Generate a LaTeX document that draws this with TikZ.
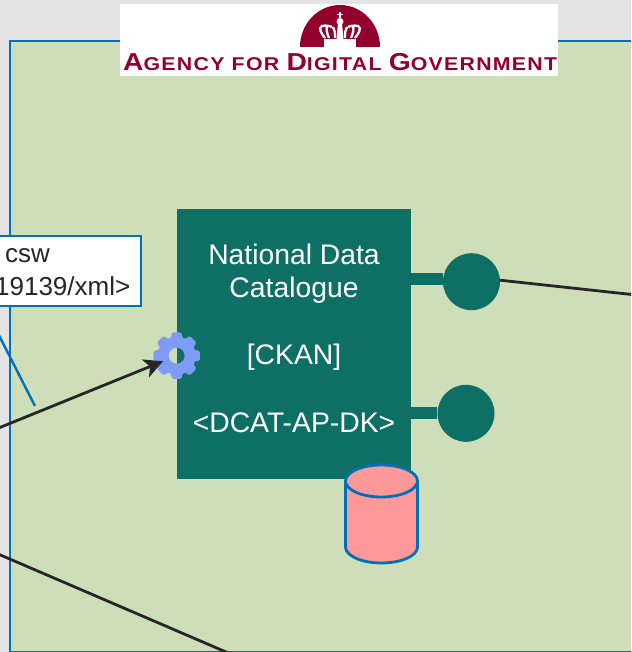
\documentclass[tikz,border=0pt]{standalone}
\usepackage{fontspec}
\usetikzlibrary{arrows.meta}
\setmainfont{Liberation Sans}
\newfontfamily\logofont[LetterSpace=6]{Liberation Sans}
\definecolor{pagegrey}{HTML}{E3E3E3}
\definecolor{panelgreen}{HTML}{CDDEB8}
\definecolor{lineblue}{HTML}{0070B8}
\definecolor{compteal}{HTML}{0E7065}
\definecolor{gearblue}{HTML}{7F9CF5}
\definecolor{dbred}{HTML}{FF9999}
\definecolor{crownred}{HTML}{94002C}
\definecolor{ink}{HTML}{262626}
\tikzset{
  x=1pt,y=-1pt,
  connector/.style={draw=ink,line width=2.8pt},
  linkbar/.style={draw=compteal,line width=12pt},
  portdot/.style={circle,fill=compteal,minimum size=57pt,inner sep=0pt},
  compbox/.style={rectangle,fill=compteal,minimum width=234pt,minimum height=270pt,inner sep=0pt},
  comptext/.style={text=white,inner sep=0pt,align=center,font=\fontsize{28.3}{33.6}\selectfont},
  labelbox/.style={rectangle,draw=lineblue,line width=2.6pt,fill=white,inner sep=0pt},
  labeltext/.style={text=ink,inner sep=0pt,font=\fontsize{26}{30}\selectfont},
  logotext/.style={text=crownred,inner sep=0pt},
  crownstroke/.style={draw=white,line width=2.3pt}
}
\begin{document}
\begin{tikzpicture}
\useasboundingbox (0,0) rectangle (631,652);
\clip (0,0) rectangle (631,652);
\fill[pagegrey] (0,0) rectangle (631,652);
\filldraw[fill=panelgreen,draw=lineblue,line width=2.6pt] (10,41) rectangle (660,652);

% blue connector behind the label
\coordinate (bluestart) at (-16,306);
\coordinate (blueend) at (35,406);
\draw[lineblue,line width=2.4pt] (bluestart) -- (blueend);

% label box
\node[labelbox,minimum width=241pt,minimum height=70pt] (cswbox) at (20.5,271) {};
\node[labeltext] (cswtext) at (27.5,255.5) {csw};
\node[labeltext,anchor=east] (formattext) at (130.5,286.5) {19139/xml>};

% component
\node[compbox] (ckan) at (294,344) {};
\node[comptext] (ckantext) at (294,338) {National Data\\Catalogue\\[33.6pt][CKAN]\\[33.6pt]<DCAT-AP-DK>};
\node[portdot] (port1) at (471.5,281.7) {};
\node[portdot] (port2) at (466,413.3) {};
\draw[linkbar] (ckan.east |- 0,278.7) -- (port1.west |- 0,278.7);
\draw[linkbar] (ckan.east |- 0,413.3) -- (port2.west |- 0,413.3);

% database
\filldraw[fill=dbred,draw=lineblue,line width=2.8pt]
  (345.5,481) arc[start angle=180,end angle=0,x radius=36,y radius=-16]
  -- (417.5,547) arc[start angle=0,end angle=-180,x radius=36,y radius=-16] -- cycle;
\draw[lineblue,line width=2.8pt] (345.5,481) arc[start angle=180,end angle=360,x radius=36,y radius=-16];

% gear
\node[circle,minimum size=29pt,inner sep=0pt] (gear) at (176.7,355.7) {};
\fill[gearblue,even odd rule,rounded corners=1.6pt]
  ({176.7+18.5*cos(-22.5)},{355.7+18.5*sin(-22.5)})
  \foreach \a in {0,45,...,315} {
    -- ({176.7+18.5*cos(\a-18)},{355.7+18.5*sin(\a-18)})
    -- ({176.7+23.8*cos(\a-12)},{355.7+23.8*sin(\a-12)})
    -- ({176.7+23.8*cos(\a+12)},{355.7+23.8*sin(\a+12)})
    -- ({176.7+18.5*cos(\a+18)},{355.7+18.5*sin(\a+18)})
  } -- cycle
  [sharp corners] (176.7,355.7) circle[radius=8];

% connectors
\coordinate (rightend) at (640,295.4);
\coordinate (leftin) at (-10,431.5);
\coordinate (lowstart) at (-10,550.5);
\coordinate (lowend) at (240,658);
\draw[connector] (port1.3) -- (rightend);
\draw[connector,-{Stealth[length=19pt,width=19pt,inset=5pt]}] (leftin) -- (gear);
\draw[connector] (lowstart) -- (lowend);

% logo
\fill[white] (120,4) rectangle (558,76);
\fill[crownred] (300,47) arc[start angle=180,end angle=0,x radius=40,y radius=-42] -- cycle;
\fill[white] (324,48) -- (324,39) -- (356,39) -- (356,48) -- cycle;
\draw[white,line width=1.6pt] (340,12) -- (340,18) (337.3,14.5) -- (342.7,14.5);
\fill[white] (340,21.5) circle[radius=3.5];
\fill[white] (338,23) -- (342,23) -- (343.5,39) -- (336.5,39) -- cycle;
\foreach \m in {1,-1} {
  \begin{scope}[shift={(340,0)},xscale=\m]
    \draw[crownstroke] (-15,38) .. controls (-19,33) and (-22,28) .. (-18,26)
      .. controls (-14,25) and (-10,26) .. (-8,27);
    \draw[crownstroke] (-11,38) .. controls (-13,33) and (-14,30) .. (-13,26);
    \draw[crownstroke] (-5,38) .. controls (-5,33) and (-5,30) .. (-7,27);
  \end{scope}
}
\node[logotext,anchor=base west] (logoname) at (123,71) {\resizebox{434pt}{\height}{\logofont\bfseries
  \fontsize{24.5}{24}\selectfont A\fontsize{18.5}{24}\selectfont GENCY FOR
  \fontsize{24.5}{24}\selectfont D\fontsize{18.5}{24}\selectfont IGITAL
  \fontsize{24.5}{24}\selectfont G\fontsize{18.5}{24}\selectfont OVERNMENT}};
\end{tikzpicture}
\end{document}
